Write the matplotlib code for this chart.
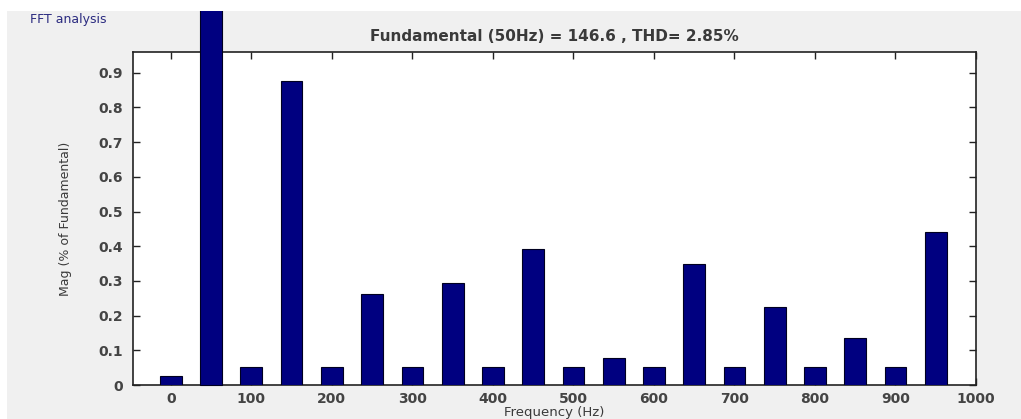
import matplotlib.pyplot as plt
from matplotlib.patches import Rectangle
from matplotlib.transforms import Bbox, TransformedBbox

# harmonic spectrum, magnitude in % of fundamental
freqs = [0, 50, 100, 150, 200, 250, 300, 350, 400, 450, 500,
         550, 600, 650, 700, 750, 800, 850, 900, 950]
mags = [0.027, 100.0, 0.053, 0.877, 0.053, 0.263, 0.053, 0.295, 0.053, 0.391, 0.053,
        0.077, 0.053, 0.348, 0.053, 0.224, 0.053, 0.135, 0.053, 0.441]
xticks = [0, 100, 200, 300, 400, 500, 600, 700, 800, 900, 1000]
yticks = [0, 0.1, 0.2, 0.3, 0.4, 0.5, 0.6, 0.7, 0.8, 0.9]

W, H = 1021, 419
fig = plt.figure(figsize=(W / 100, H / 100), dpi=100, facecolor='white')

# grey panel behind the axes (white strip on top and left)
px0, py1 = 7 / W, 1 - 11 / H
panel = Rectangle((px0, 0), 1 - px0, py1, transform=fig.transFigure,
                  facecolor='#f0f0f0', edgecolor='none', zorder=-10)
fig.patches.append(panel)

ax = fig.add_axes([133 / W, 1 - 385 / H, (976 - 133) / W, (385 - 52) / H])
ax.set_facecolor('white')

bars = ax.bar(freqs, mags, width=27, color='#000080', edgecolor='#000020',
              linewidth=0.8, zorder=3)
# fundamental runs off the top of the axes, cut at the panel edge
clip = TransformedBbox(Bbox([[px0, 0], [1, py1]]), fig.transFigure)
bars[1].set_clip_box(clip)

ax.set_xlim(-47, 1000)
ax.set_ylim(0, 0.96)
ax.set_xticks(xticks)
ax.set_yticks(yticks)
ax.set_xticklabels([str(t) for t in xticks], fontweight='bold')
ax.set_yticklabels(['0'] + ['%.1f' % t for t in yticks[1:]], fontweight='bold')

ax.tick_params(direction='in', top=True, right=True, length=5, width=1,
               colors='#222222', labelsize=10, labelcolor='#444444')
ax.tick_params(axis='y', pad=7)
ax.tick_params(axis='x', pad=5)
for s in ax.spines.values():
    s.set_linewidth(1.2)
    s.set_color('#222222')

ax.set_title('Fundamental (50Hz) = 146.6 , THD= 2.85%', fontsize=11,
             fontweight='bold', color='#3a3a3a', pad=8)
ax.set_xlabel('Frequency (Hz)', fontsize=9.5, color='#3a3a3a', labelpad=0)
ax.set_ylabel('Mag (% of Fundamental)', fontsize=9, color='#3a3a3a', labelpad=19)

fig.text(30 / W, 1 - 20 / H, 'FFT analysis', fontsize=9, color='#2b2b80',
         va='center', ha='left')

fig.savefig('out.png', dpi=100, facecolor=fig.get_facecolor())
